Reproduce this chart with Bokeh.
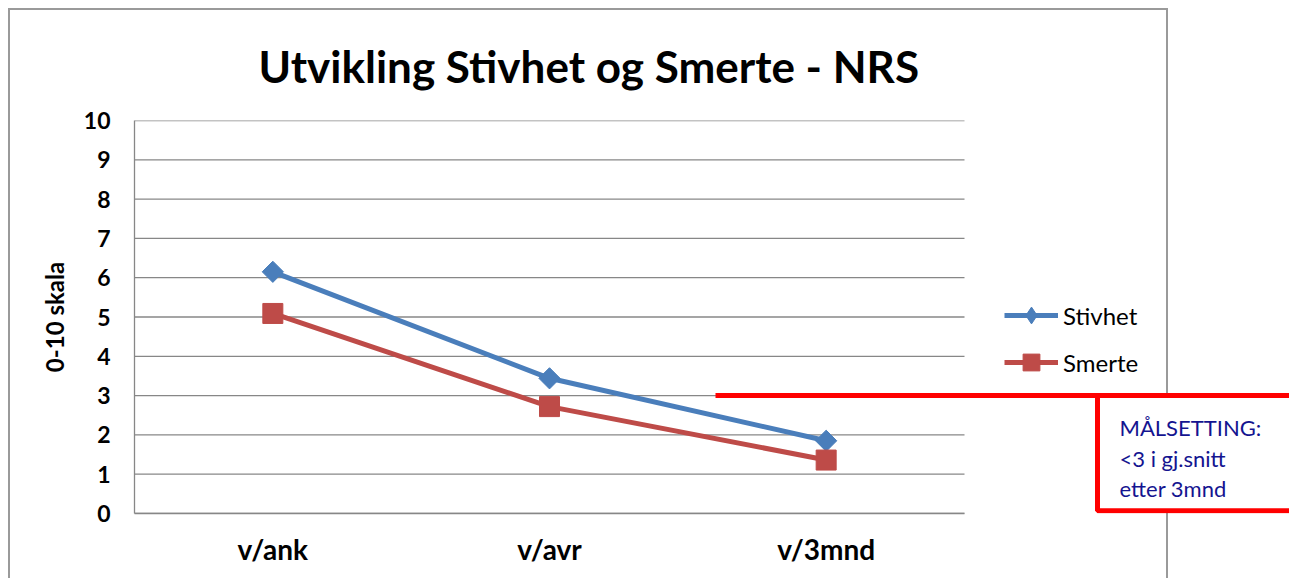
import math
from bokeh.plotting import figure
from bokeh.models import (Range1d, FixedTicker, Legend, LegendItem,
                          BoxAnnotation, Label, Title)
from bokeh.embed import file_html
from bokeh.resources import INLINE

# ---- data ----
categories = ["v/ank", "v/avr", "v/3mnd"]
stivhet = [6.15, 3.44, 1.85]
smerte = [5.09, 2.72, 1.36]
y_ticks = list(range(0, 11))
title_text = "Utvikling Stivhet og Smerte - NRS"
y_label = "0-10 skala"
series_names = ["Stivhet", "Smerte"]
target_value = 3
target_lines = ["MÅLSETTING:", "<3 i gj.snitt", "etter 3mnd"]

# category slots: category i sits at the middle of slot [i, i+1]
xs = [i + 0.5 for i in range(len(categories))]
n_cat = len(categories)

# ---- layout / styling ----
FONT = "Lato"
BLUE = "#4a7ebb"
RED = "#be4b48"
GRID = "#878787"
NAVY = "#141490"
BORDER = "#9a9a9a"

W, H = 1289, 578
FL, FR, FT, FB = 134, 1289, 120, 513          # plot frame in pixels
slot_px = (964 - FL) / n_cat                    # width of one category slot
x_end = (FR - FL) / slot_px                     # frame extends right of the axis

p = figure(width=W, height=H,
           x_range=Range1d(0, x_end), y_range=Range1d(0, 10),
           output_backend="svg", toolbar_location=None,
           min_border_left=FL, min_border_right=W - FR,
           min_border_top=FT, min_border_bottom=H - FB)
p.outline_line_color = None
p.background_fill_alpha = 0
p.border_fill_alpha = 0
g = f"linear-gradient({BORDER}, {BORDER})"
p.styles = {"background": f"{g} 8px 8px / 2px 100% no-repeat, "
                          f"{g} 8px 8px / 1160px 2px no-repeat, "
                          f"{g} 1166px 8px / 2px 100% no-repeat, #ffffff"}

p.xgrid.visible = False
p.ygrid.visible = False
# horizontal gridlines only across the category area
p.segment(x0=[0] * len(y_ticks), x1=[n_cat] * len(y_ticks), y0=y_ticks, y1=y_ticks,
          line_color=GRID, line_width=1.3, level="underlay")

p.yaxis.ticker = FixedTicker(ticks=y_ticks)
p.xaxis.ticker = FixedTicker(ticks=xs)
p.xaxis.major_label_overrides = {x: c for x, c in zip(xs, categories)}
p.xaxis.bounds = (0, n_cat)
for ax in (p.xaxis[0], p.yaxis[0]):
    ax.axis_line_color = GRID
    ax.axis_line_width = 1.3
    ax.major_tick_line_color = None
    ax.minor_tick_line_color = None
    ax.major_tick_in = 0
    ax.major_tick_out = 0
    ax.minor_tick_in = 0
    ax.minor_tick_out = 0
    ax.major_label_text_font = FONT
    ax.major_label_text_font_style = "bold"
    ax.major_label_text_color = "black"

p.yaxis.major_label_text_font_size = "23px"
p.yaxis.major_label_standoff = 24
p.yaxis.axis_label = y_label
p.yaxis.axis_label_text_font = FONT
p.yaxis.axis_label_text_font_style = "bold"
p.yaxis.axis_label_text_font_size = "24px"
p.yaxis.axis_label_text_color = "black"
p.yaxis.axis_label_standoff = 12

p.xaxis.major_label_text_font_size = "28px"
p.xaxis.major_label_standoff = 18

# title
p.title = Title(text=title_text, align="left", offset=124, standoff=58,
                text_font=FONT, text_font_style="bold", text_font_size="44px",
                text_color="black")

# series
l1 = p.line(xs, stivhet, line_width=5, color=BLUE)
s1_leg = p.scatter(xs, stivhet, marker="diamond", size=12, color=BLUE)  # legend symbol, hidden under s1
s1 = p.scatter(xs, stivhet, marker="square", angle=math.pi / 4, size=15, color=BLUE)
l2 = p.line(xs, smerte, line_width=5, color=RED)
s2 = p.scatter(xs, smerte, marker="square", size=20, color=RED)

legend = Legend(items=[LegendItem(label=series_names[0], renderers=[l1, s1_leg]),
                       LegendItem(label=series_names[1], renderers=[l2, s2])],
                location=(870, 130), glyph_width=54, glyph_height=42,
                label_standoff=5, padding=0, margin=0, spacing=5,
                border_line_color=None, background_fill_alpha=0,
                label_text_font=FONT, label_text_font_size="24px",
                label_text_color="black", label_text_baseline="middle")
p.add_layout(legend)

# target (goal) line and note box
target_start = 2.1
box_left = (1097 - FL) / slot_px
p.segment(x0=[target_start], x1=[x_end], y0=[target_value], y1=[target_value],
          line_color="#ff0000", line_width=5)
p.add_layout(BoxAnnotation(left=box_left, right=x_end + 0.1, top=target_value, bottom=0.07,
                           fill_color="white", fill_alpha=1,
                           line_color="#ff0000", line_alpha=1, line_width=5,
                           level="overlay"))
note_x = (1119 - FL) / slot_px
for txt, yb in zip(target_lines, [2.19, 1.40, 0.64]):
    p.add_layout(Label(x=note_x, y=yb, text=txt, text_font=FONT,
                       text_font_size="22px", text_color=NAVY,
                       text_baseline="alphabetic", level="overlay"))

open("out.html", "w").write(file_html(p, INLINE))
